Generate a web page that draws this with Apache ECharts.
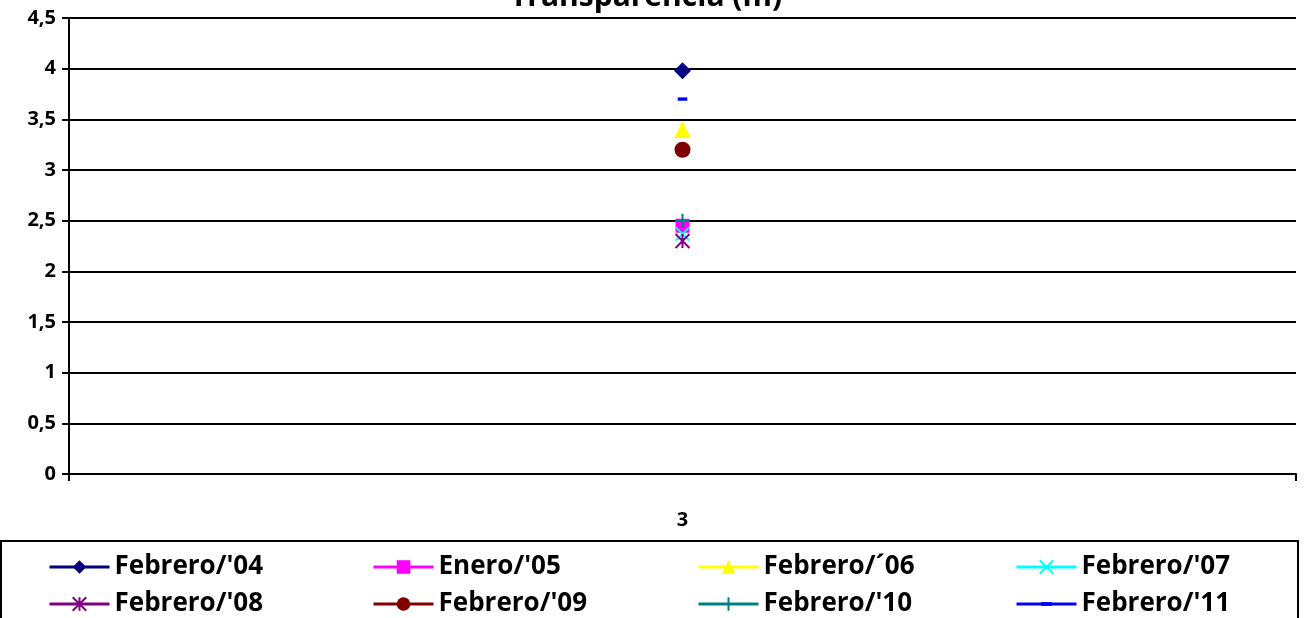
<!DOCTYPE html>
<html><head><meta charset="utf-8">
<script src="https://cdn.jsdelivr.net/npm/echarts@6/dist/echarts.min.js"></script>
<style>html,body{margin:0;padding:0;background:#fff}#c{width:1307px;height:618px}</style>
</head><body><div id="c"></div>
<script>
var categories = ['3'];
var seriesNames = ["Febrero/'04", "Enero/'05", "Febrero/´06", "Febrero/'07", "Febrero/'08", "Febrero/'09", "Febrero/'10", "Febrero/'11"];
var seriesValues = [[3.98], [2.45], [3.4], [2.37], [2.3], [3.2], [2.5], [3.7]];
var yTicks = ['0','0,5','1','1,5','2','2,5','3','3,5','4','4,5'];

var colors = ['#000080', '#FF00FF', '#FFFF00', '#00FFFF', '#800080', '#800000', '#008080', '#0000FF'];
var symbols = ['diamond', 'rect', 'triangle',
  'path://M0,0L10,10M10,0L0,10',
  'path://M0,0L10,10M10,0L0,10M5,0L5,10',
  'circle',
  'path://M5,0L5,10M0,5L10,5',
  'path://M0,0M10,10M1,3.6L9,3.6L9,6.4L1,6.4Z'];
var sizes = [17, 14, 17, 13, 14, 16, 14, 12];
var strokeW = [0, 0, 0, 2, 2, 0, 2, 0];

var FONT = 'Open Sans';
var series = seriesNames.map(function (n, i) {
  var st = { color: colors[i] };
  if (strokeW[i]) { st.borderColor = colors[i]; st.borderWidth = strokeW[i]; }
  return {
    name: n, type: 'line', data: seriesValues[i],
    symbol: symbols[i], symbolSize: sizes[i], showSymbol: true,
    lineStyle: { color: colors[i], width: 3 },
    itemStyle: st
  };
});

var colX = [43, 367, 692, 1010];
var rowY = [549, 586];
var legends = seriesNames.map(function (n, i) {
  return {
    data: [n], left: colX[i % 4], top: rowY[Math.floor(i / 4)],
    itemWidth: 60, itemHeight: 17, itemGap: 5,
    lineStyle: { width: 3 },
    textStyle: { fontFamily: FONT, fontWeight: 'bold', fontSize: 26, color: '#000' },
    selectedMode: false
  };
});

var chart = echarts.init(document.getElementById('c'));
chart.setOption({
  animation: false,
  backgroundColor: '#fff',
  title: {
    text: 'Transparencia (m)', left: 641, textAlign: 'center', top: -23,
    textStyle: { fontFamily: FONT, fontWeight: 'bold', fontSize: 30, color: '#000' }
  },
  graphic: [{
    type: 'rect', shape: { x: 1, y: 541, width: 1297, height: 80 },
    style: { fill: 'none', stroke: '#000', lineWidth: 2 }, z: 0
  }],
  legend: legends,
  grid: { left: 69, right: 11, top: 18, bottom: 144 },
  xAxis: {
    type: 'category', data: categories, boundaryGap: true,
    axisLine: { lineStyle: { color: '#000', width: 2 } },
    axisTick: { show: true, length: 7, lineStyle: { color: '#000', width: 2 } },
    axisLabel: { margin: 36, fontFamily: FONT, fontWeight: 'bold', fontSize: 20, color: '#000' }
  },
  yAxis: {
    type: 'value', min: 0, max: 4.5, interval: 0.5,
    axisLine: { show: true, lineStyle: { color: '#000', width: 2 } },
    axisTick: { show: true, length: 7, lineStyle: { color: '#000', width: 2 } },
    axisLabel: {
      margin: 13, fontFamily: FONT, fontWeight: 'bold', fontSize: 20, color: '#000',
      formatter: function (v) { return yTicks[Math.round(v / 0.5)]; }
    },
    splitLine: { lineStyle: { color: '#000', width: 2 } }
  },
  series: series
});
</script></body></html>
